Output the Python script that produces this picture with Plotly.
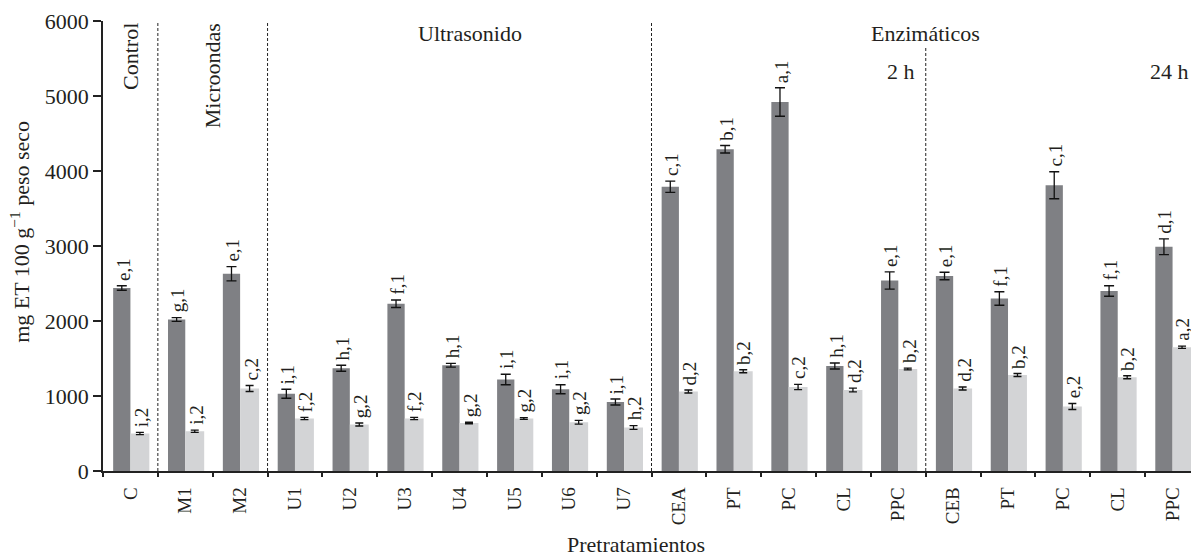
import plotly.graph_objects as go

# Pretreatment codes along the x axis (PT, PC, CL, PPC repeat for 2 h and 24 h)
categories = ["C", "M1", "M2", "U1", "U2", "U3", "U4", "U5", "U6", "U7",
              "CEA", "PT", "PC", "CL", "PPC", "CEB", "PT", "PC", "CL", "PPC"]

# Series 1 (dark bars): mg ET 100 g-1 dry weight, with standard deviation
series1 = [2440, 2020, 2630, 1030, 1370, 2230, 1410, 1220, 1090, 920,
           3790, 4290, 4920, 1400, 2540, 2600, 2300, 3810, 2400, 2990]
series1_err = [30, 25, 95, 60, 40, 50, 25, 70, 60, 40,
               75, 50, 190, 40, 115, 50, 90, 180, 70, 105]
series1_lbl = ["e,1", "g,1", "e,1", "i,1", "h,1", "f,1", "h,1", "i,1", "i,1", "i,1",
               "c,1", "b,1", "a,1", "h,1", "e,1", "e,1", "f,1", "c,1", "f,1", "d,1"]

# Series 2 (light bars)
series2 = [500, 530, 1100, 700, 620, 700, 640, 700, 650, 580,
           1060, 1330, 1120, 1080, 1360, 1100, 1280, 860, 1250, 1650]
series2_err = [15, 15, 40, 15, 20, 15, 10, 12, 25, 25,
               20, 20, 35, 25, 12, 20, 20, 40, 20, 15]
series2_lbl = ["i,2", "i,2", "c,2", "f,2", "g,2", "f,2", "g,2", "g,2", "g,2", "h,2",
               "d,2", "b,2", "c,2", "d,2", "b,2", "d,2", "b,2", "e,2", "b,2", "a,2"]

# Group separators (after these category indices)
separators_after = [0, 2, 9, 14]
y_ticks = [0, 1000, 2000, 3000, 4000, 5000, 6000]

FONT = "Liberation Serif"
TXT = "#231f20"
DARK = "#7f8084"
LIGHT = "#d3d4d6"

BAR_W1 = 0.315
BAR_W2 = 0.345
n = len(categories)
xs = list(range(n))

fig = go.Figure()
fig.add_trace(go.Bar(
    x=xs, y=series1, width=BAR_W1, offset=-BAR_W1,
    marker=dict(color=DARK, line=dict(width=0)),
    error_y=dict(type="data", array=series1_err, color="#111", thickness=1.3, width=5),
    showlegend=False))
fig.add_trace(go.Bar(
    x=xs, y=series2, width=BAR_W2, offset=0,
    marker=dict(color=LIGHT, line=dict(width=0)),
    error_y=dict(type="data", array=series2_err, color="#111", thickness=1.3, width=4),
    showlegend=False))

annotations = []
# significance letters above each error bar
for i in xs:
    for val, err, lbl, dx in ((series1[i], series1_err[i], series1_lbl[i], -BAR_W1 / 2),
                              (series2[i], series2_err[i], series2_lbl[i], BAR_W2 / 2)):
        annotations.append(dict(
            x=i + dx, y=val + err, xref="x", yref="y", text=lbl, textangle=-90,
            showarrow=False, xanchor="center", yanchor="bottom", yshift=3, xshift=1,
            font=dict(family=FONT, size=19, color=TXT)))

# vertical dashed separators
shapes = []
for k in separators_after:
    top = 0.942 if k == 14 else 1.0
    shapes.append(dict(type="line", xref="x", yref="paper", x0=k + 0.5, x1=k + 0.5,
                       y0=0, y1=top, line=dict(color="#222", width=1, dash="3px,2px")))

head_font = dict(family=FONT, size=22, color=TXT)
annotations += [
    dict(x=0, y=1.0, xref="x", yref="paper", text="Control", textangle=-90,
         showarrow=False, xanchor="center", yanchor="top", font=head_font),
    dict(x=1.5, y=1.0, xref="x", yref="paper", text="Microondas", textangle=-90,
         showarrow=False, xanchor="center", yanchor="top", font=head_font),
    dict(x=6.2, y=0.973, xref="x", yref="paper", text="Ultrasonido",
         showarrow=False, xanchor="center", yanchor="middle", font=head_font),
    dict(x=14.5, y=0.973, xref="x", yref="paper", text="Enzimáticos",
         showarrow=False, xanchor="center", yanchor="middle", font=head_font),
    dict(x=14.34, y=0.888, xref="x", yref="paper", text="2 h",
         showarrow=False, xanchor="right", yanchor="middle", font=head_font),
    dict(x=1.0, y=0.888, xref="paper", yref="paper", text="24 h",
         showarrow=False, xanchor="right", yanchor="middle", font=head_font),
    dict(x=-0.0765, y=0.531, xref="paper", yref="paper",
         text="mg ET 100 g<sup>−1</sup> peso seco", textangle=-90,
         showarrow=False, xanchor="center", yanchor="middle", font=head_font),
    dict(x=0.49, y=-0.163, xref="paper", yref="paper", text="Pretratamientos",
         showarrow=False, xanchor="center", yanchor="middle", font=head_font),
]

x_range = [-0.5, 19.336]
fig.update_layout(
    width=1191, height=556,
    margin=dict(l=103, r=0, t=21, b=85),
    paper_bgcolor="white", plot_bgcolor="white",
    barmode="overlay",
    font=dict(family=FONT, size=22, color=TXT),
    xaxis=dict(range=x_range, tickmode="array", tickvals=xs, ticktext=categories,
               tickangle=-90, ticks="", showline=True, linecolor="#222", linewidth=1.5,
               showgrid=False, zeroline=False, ticklabelstandoff=7,
               tickfont=dict(family=FONT, size=19, color=TXT)),
    xaxis2=dict(range=x_range, overlaying="x", anchor="y", side="bottom",
                tickmode="array", tickvals=[i - 0.5 for i in range(n + 1)],
                ticks="outside", ticklen=5, tickwidth=1.5, tickcolor="#222",
                showticklabels=False, showline=False, showgrid=False, zeroline=False),
    yaxis=dict(range=[0, 6000], tickmode="array", tickvals=y_ticks,
               ticks="outside", ticklen=8, tickwidth=1.5, tickcolor="#222",
               showline=True, linecolor="#222", linewidth=1.5,
               showgrid=False, zeroline=False,
               tickfont=dict(family=FONT, size=22, color=TXT)),
    shapes=shapes,
    annotations=annotations,
)
# invisible trace so the boundary-tick axis is drawn
fig.add_trace(go.Scatter(x=[0], y=[0], xaxis="x2", yaxis="y", mode="markers",
                         marker=dict(opacity=0), showlegend=False, hoverinfo="skip"))

fig.write_html("out.html")
